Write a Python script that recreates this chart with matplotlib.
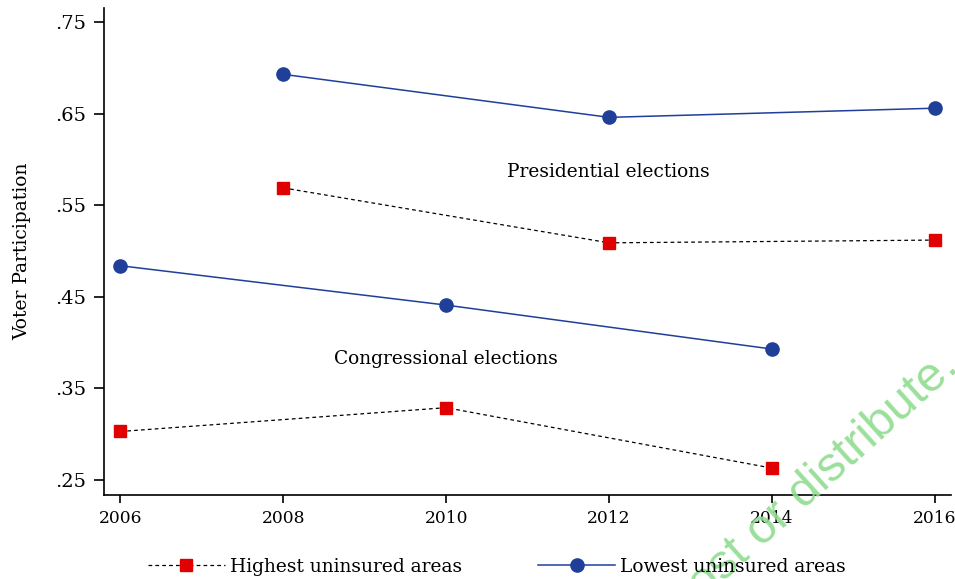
import matplotlib
matplotlib.use("Agg")
import matplotlib.pyplot as plt

plt.rcParams['font.family'] = ['DejaVu Serif']

# data
pres_years = [2008, 2012, 2016]
pres_low = [0.693, 0.646, 0.656]
pres_high = [0.569, 0.509, 0.512]

cong_years = [2006, 2010, 2014]
cong_low = [0.484, 0.441, 0.393]
cong_high = [0.303, 0.329, 0.263]

yticks = [0.25, 0.35, 0.45, 0.55, 0.65, 0.75]
ytick_labels = ['.25', '.35', '.45', '.55', '.65', '.75']
xticks = [2006, 2008, 2010, 2012, 2014, 2016]

blue = '#1f3f99'
red = '#e00000'

fig = plt.figure(figsize=(9.55, 5.79), dpi=100)
ax = fig.add_axes([0.109, 0.145, 0.887, 0.841])

high_style = dict(color='black', lw=0.9, ls=(0, (3, 2.5)), marker='s', markersize=8.5,
                  markerfacecolor=red, markeredgecolor=red)
low_style = dict(color=blue, lw=1.1, marker='o', markersize=9.5,
                 markerfacecolor=blue, markeredgecolor=blue)

ax.plot(pres_years, pres_low, **low_style)
ax.plot(pres_years, pres_high, **high_style)
l1, = ax.plot(cong_years, cong_high, **high_style, label='Highest uninsured areas')
l2, = ax.plot(cong_years, cong_low, **low_style, label='Lowest uninsured areas')

ax.text(2011.99, 0.586, 'Presidential elections', ha='center', va='center', fontsize=13.4)
ax.text(2010.0, 0.382, 'Congressional elections', ha='center', va='center', fontsize=13.4)

ax.set_xlim(2005.8, 2016.2)
ax.set_ylim(0.2336, 0.7653)
ax.set_xticks(xticks)
ax.set_yticks(yticks)
ax.set_yticklabels(ytick_labels)
ax.tick_params(axis='x', labelsize=12.3, length=6, width=1.2, direction='out', pad=5)
ax.tick_params(axis='y', labelsize=14, length=7, width=1.2, direction='out', pad=6)
ax.set_ylabel('Voter Participation', fontsize=13.5, labelpad=17)
for s in ['top', 'right']:
    ax.spines[s].set_visible(False)
for s in ['left', 'bottom']:
    ax.spines[s].set_linewidth(1.2)

fig.legend(handles=[l1, l2], loc='center', bbox_to_anchor=(0.52, 0.021),
           ncol=2, frameon=False, fontsize=13.4, handlelength=4.15, columnspacing=4.1,
           handletextpad=0.25, borderpad=0.1)

# watermark
fig.text(1.005, 0.362, 'Do not copy, post or distribute.', color='#8fdc8f', alpha=0.9,
         fontsize=35, family='Liberation Sans', rotation=42, ha='right', va='baseline',
         rotation_mode='anchor')

fig.savefig('out.png', dpi=100)
